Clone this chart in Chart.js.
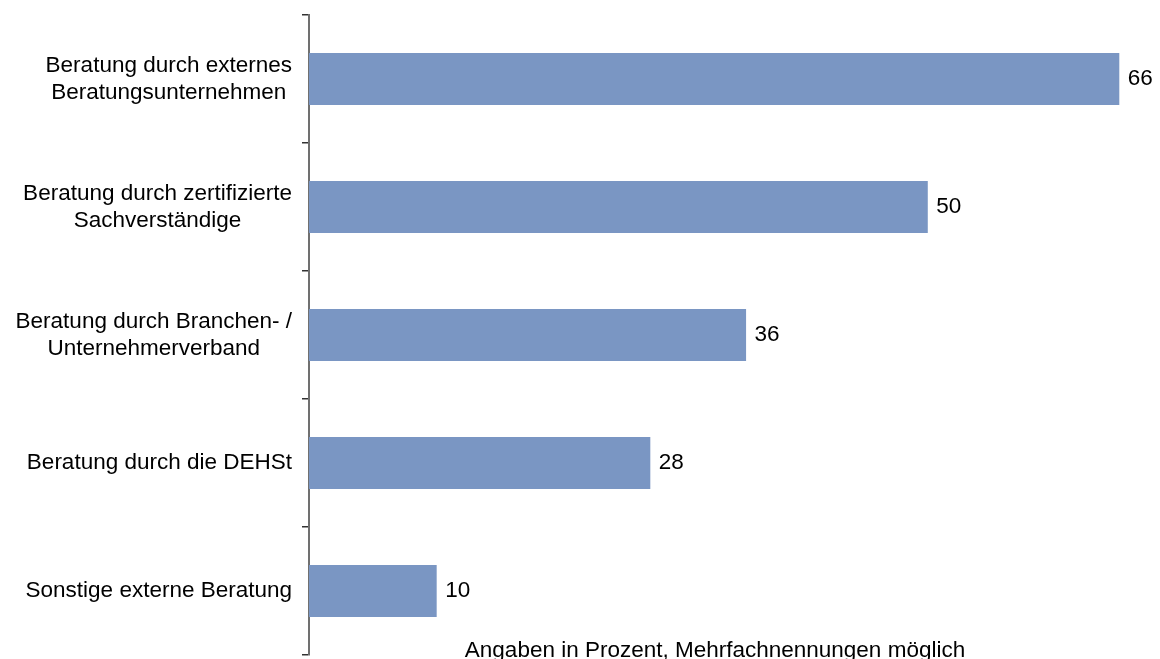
<!DOCTYPE html>
<html>
<head>
<meta charset="utf-8">
<script src="https://cdn.jsdelivr.net/npm/chart.js@4"></script>
<style>
html,body{margin:0;padding:0;background:#fff;}
#wrap{width:1160px;height:659px;position:relative;}
</style>
</head>
<body>
<div id="wrap"><canvas id="c" width="1160" height="659"></canvas></div>
<script>
const categories = [
  ["Beratung durch externes", "Beratungsunternehmen"],
  ["Beratung durch zertifizierte", "Sachverständige"],
  ["Beratung durch Branchen- /", "Unternehmerverband"],
  ["Beratung durch die DEHSt"],
  ["Sonstige externe Beratung"]
];
const values = [66.0, 50.4, 35.6, 27.8, 10.4];
const footnote = "Angaben in Prozent, Mehrfachnennungen möglich";

const FONT = '22.5px "Liberation Sans", Arial, sans-serif';

const labelPlugin = {
  id: 'labels',
  afterDraw(chart) {
    const ctx = chart.ctx;
    const y = chart.scales.y;
    const meta = chart.getDatasetMeta(0);
    ctx.save();
    ctx.font = FONT;
    ctx.fillStyle = '#000';
    ctx.textBaseline = 'middle';
    categories.forEach((lines, i) => {
      const cy = y.getPixelForValue(i);
      const widths = lines.map(l => ctx.measureText(l).width);
      const maxW = Math.max(...widths);
      const right = 292;
      const cx = right - maxW / 2;
      const lh = 27;
      const startY = cy - (lines.length - 1) * lh / 2;
      ctx.textAlign = 'center';
      lines.forEach((l, k) => ctx.fillText(l, cx, startY + k * lh));
    });
    ctx.textAlign = 'left';
    meta.data.forEach((bar, i) => {
      ctx.fillText(String(Math.round(values[i])), bar.x + 8.5, bar.y);
    });
    ctx.textAlign = 'center';
    ctx.textBaseline = 'alphabetic';
    ctx.fillText(footnote, 715, 657);
    ctx.restore();
  }
};

new Chart(document.getElementById('c'), {
  type: 'bar',
  data: {
    labels: categories,
    datasets: [{
      data: values,
      backgroundColor: '#7a96c3',
      borderWidth: 0,
      barPercentage: 0.81,
      categoryPercentage: 0.5
    }]
  },
  options: {
    indexAxis: 'y',
    responsive: false,
    animation: false,
    devicePixelRatio: 1,
    layout: { padding: { left: 0, right: 10, top: 15, bottom: 4 } },
    plugins: { legend: { display: false }, tooltip: { enabled: false } },
    scales: {
      x: { display: false, min: 0, max: 68.5 },
      y: {
        display: true,
        afterFit(scale) { scale.width = 309; },
        ticks: { display: false },
        grid: {
          drawOnChartArea: false,
          drawTicks: true,
          tickLength: 7,
          color: '#333',
          lineWidth: 1.5,
          offset: true
        },
        border: { display: true, color: '#707070', width: 2 }
      }
    }
  },
  plugins: [labelPlugin]
});
</script>
</body>
</html>
